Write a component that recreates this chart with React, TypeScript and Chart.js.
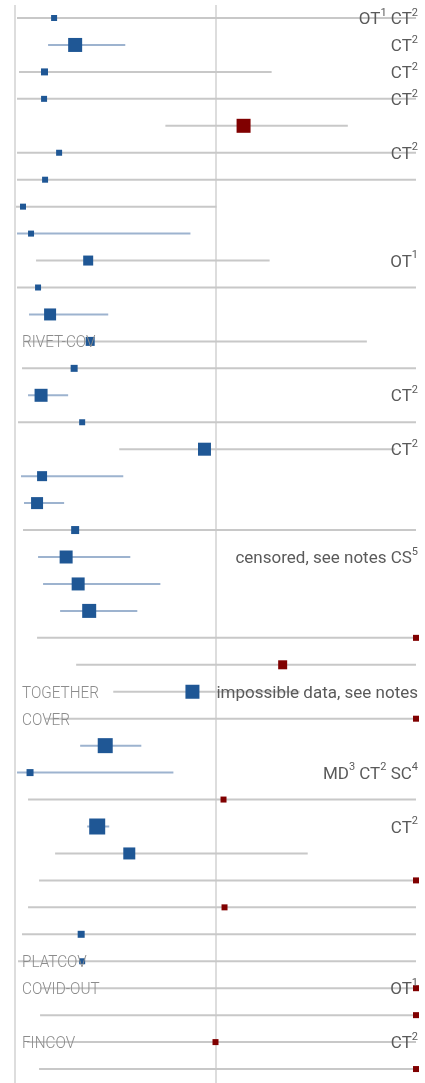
import React, { useEffect, useRef } from 'react';
import { Chart, registerables } from 'chart.js';

Chart.register(...registerables);

// Relative risk estimate and 95% CI per study, top to bottom.
const estimates = [
  0.195, 0.30, 0.147, 0.145, 1.14, 0.22, 0.15, 0.04, 0.08, 0.365,
  0.115, 0.175, 0.375, 0.295, 0.13, 0.335, 0.945, 0.135, 0.11, 0.30,
  0.255, 0.315, 0.37, 2.6, 1.335, 0.885, 2.4, 0.45, 0.075, 1.04,
  0.41, 0.57, 2.3, 1.045, 0.33, 0.335, 2.2, 2.5, 1.0, 2.8,
];
const lower = [
  0.01, 0.165, 0.02, 0.01, 0.75, 0.01, 0.01, 0.005, 0.01, 0.105,
  0.01, 0.07, 0.05, 0.035, 0.065, 0.015, 0.52, 0.03, 0.045, 0.04,
  0.115, 0.14, 0.225, 0.11, 0.305, 0.49, 0.15, 0.325, 0.01, 0.065,
  0.36, 0.2, 0.12, 0.065, 0.035, 0.015, 0.125, 0.125, 0.06, 0.12,
];
const upper = [
  3.5, 0.55, 1.28, 4.0, 1.66, 3.2, 2.9, 1.005, 0.875, 1.27,
  3.0, 0.465, 1.755, 2.6, 0.265, 3.1, 1.895, 0.54, 0.245, 2.8,
  0.575, 0.725, 0.61, 9.0, 4.5, 1.42, 8.0, 0.63, 0.79, 2.7,
  0.47, 1.46, 7.5, 2.9, 3.3, 3.0, 6.0, 9.5, 3.4, 10.0,
];
// Relative study weights.
const weights = [
  6, 14, 7, 6, 14, 6, 6, 6, 6, 10,
  6, 12, 9, 7, 13, 6, 13, 10, 12, 8,
  13, 13, 14, 6, 9, 14, 6, 15, 7, 6,
  16, 12, 6, 6, 7, 6, 6, 6, 6, 6,
];
// Footnote markers shown at the right of each row ("^n" = superscript).
const notes = [
  'OT^1 CT^2', 'CT^2', 'CT^2', 'CT^2', '', 'CT^2', '', '', '', 'OT^1',
  '', '', '', '', 'CT^2', '', 'CT^2', '', '', '',
  'censored, see notes CS^5', '', '', '', '', 'impossible data, see notes', '', '', 'MD^3 CT^2 SC^4', '',
  'CT^2', '', '', '', '', '', 'OT^1', '', 'CT^2', '',
];
// Trial names written at the left of some rows.
const trials = [
  '', '', '', '', '', '', '', '', '', '',
  '', '', 'RIVET-COV', '', '', '', '', '', '', '',
  '', '', '', '', '', 'TOGETHER', 'COVER', '', '', '',
  '', '', '', '', '', 'PLATCOV', 'COVID-OUT', '', 'FINCOV', '',
];

const CAP = 2; // values beyond this are clipped at the right border
const BLUE = '#1f5795';
const RED = '#800000';
const CI_BLUE = '#9db3cf';
const CI_GREY = '#c8c8c8';

type Seg = { t: string; sup: boolean };

function splitSup(s: string): Seg[] {
  const out: Seg[] = [];
  const re = /\^(\S)/g;
  let last = 0;
  let m: RegExpExecArray | null;
  while ((m = re.exec(s))) {
    if (m.index > last) out.push({ t: s.slice(last, m.index), sup: false });
    out.push({ t: m[1], sup: true });
    last = re.lastIndex;
  }
  if (last < s.length) out.push({ t: s.slice(last), sup: false });
  return out;
}

const MAIN_FONT = '400 17px Roboto';
const SUP_FONT = '400 11px Roboto';

const forestDecor = {
  id: 'forestDecor',
  beforeDatasetsDraw(chart: any) {
    const { ctx, chartArea, scales } = chart;
    const x = scales.x;
    ctx.save();
    ctx.strokeStyle = '#dddddd';
    ctx.lineWidth = 2;
    for (const v of [0, 1]) {
      const px = Math.round(x.getPixelForValue(v));
      ctx.beginPath();
      ctx.moveTo(px, chartArea.top + 5);
      ctx.lineTo(px, chartArea.bottom);
      ctx.stroke();
    }
    ctx.restore();
  },
  afterDatasetsDraw(chart: any) {
    const { ctx, chartArea, scales } = chart;
    const y = scales.y;
    ctx.save();
    ctx.textBaseline = 'alphabetic';
    ctx.textAlign = 'left';
    const right = chartArea.right - 7;
    notes.forEach((s, i) => {
      if (!s) return;
      const segs = splitSup(s);
      const base = y.getPixelForValue(i) + 6;
      let total = 0;
      const widths = segs.map((g) => {
        ctx.font = g.sup ? SUP_FONT : MAIN_FONT;
        const w = ctx.measureText(g.t).width;
        total += w;
        return w;
      });
      let cx = right - total;
      ctx.fillStyle = '#5a5a5a';
      segs.forEach((g, k) => {
        ctx.font = g.sup ? SUP_FONT : MAIN_FONT;
        ctx.fillText(g.t, cx, g.sup ? base - 8.3 : base);
        cx += widths[k];
      });
    });
    ctx.fillStyle = '#8c8c8c';
    trials.forEach((s, i) => {
      if (!s) return;
      const base = y.getPixelForValue(i) + 6;
      ctx.save();
      ctx.translate(chartArea.left + 22, base);
      ctx.scale(0.9, 1);
      ctx.font = '300 17px Roboto';
      ctx.fillText(s, 0, 0);
      ctx.restore();
    });
    ctx.restore();
  },
};

export default function App() {
  const ref = useRef<HTMLCanvasElement>(null);

  useEffect(() => {
    if (!ref.current) return;
    const ciSets = estimates.map((_, i) => ({
      data: [
        { x: lower[i], y: i },
        { x: Math.min(upper[i], CAP), y: i },
      ],
      showLine: true,
      borderColor: upper[i] < 1 ? CI_BLUE : CI_GREY,
      borderWidth: 2,
      pointRadius: 0,
      order: 2,
      clip: false as any,
    }));
    const pointSet = {
      data: estimates.map((v, i) => ({ x: Math.min(v, CAP), y: i })),
      pointStyle: 'rect' as const,
      pointRadius: weights.map((w) => w / Math.SQRT2),
      pointBackgroundColor: estimates.map((v) => (v >= 1 ? RED : BLUE)),
      pointBorderWidth: 0,
      showLine: false,
      order: 1,
      clip: false as any,
    };

    const chart = new Chart(ref.current, {
      type: 'scatter',
      data: { datasets: [pointSet as any, ...ciSets] },
      options: {
        animation: false,
        responsive: false,
        layout: { padding: 0, autoPadding: false },
        plugins: { legend: { display: false }, tooltip: { enabled: false } },
        scales: {
          x: { type: 'linear', display: false, min: -15 / 200.5, max: 410 / 200.5 },
          y: { type: 'linear', display: false, reverse: true, min: -18 / 26.95, max: 1065 / 26.95 },
        },
      },
      plugins: [forestDecor],
    });
    return () => chart.destroy();
  }, []);

  return (
    <div style={{ position: 'absolute', left: 0, top: 0, width: 425, height: 1083, background: '#fff' }}>
      <canvas ref={ref} width={425} height={1083} style={{ display: 'block' }} />
    </div>
  );
}
